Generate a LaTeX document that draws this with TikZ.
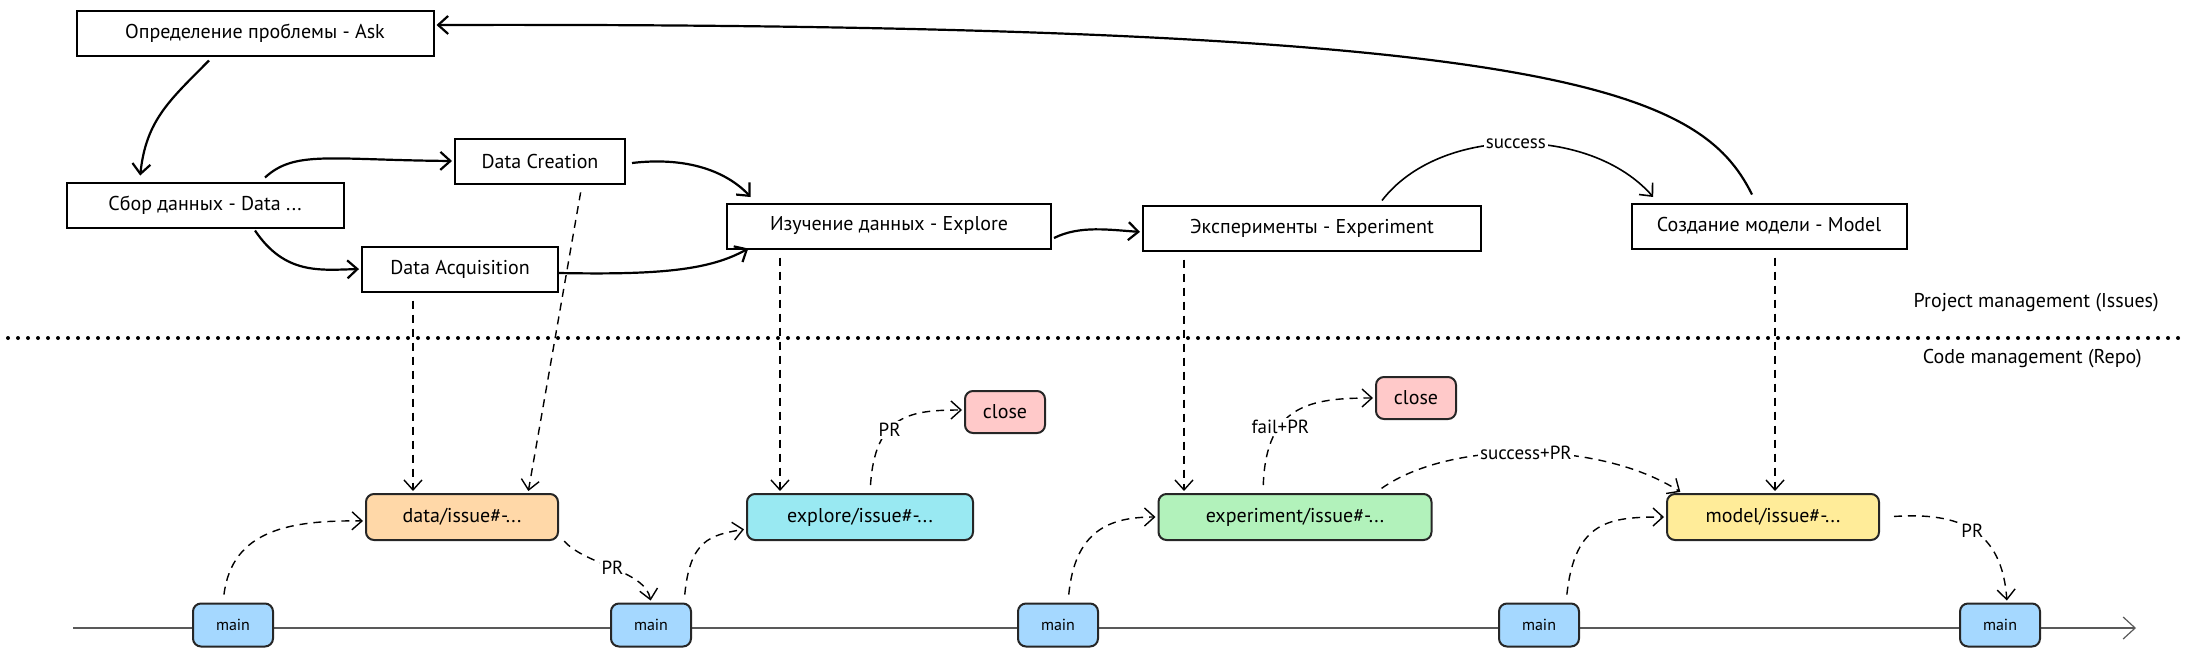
\documentclass[tikz,border=0pt]{standalone}
\usepackage{fontspec}
\setmainfont{PT Sans}
\usepackage{tikz}
\usetikzlibrary{arrows, arrows.meta}

\definecolor{dataorange}{HTML}{FFD8A8}
\definecolor{explorecyan}{HTML}{99E9F2}
\definecolor{expgreen}{HTML}{B2F2BB}
\definecolor{modelyellow}{HTML}{FFEC99}
\definecolor{mainblue}{HTML}{A5D8FF}
\definecolor{closered}{HTML}{FFC9C9}

\begin{document}
\begin{tikzpicture}[
            > = {Straight Barb[length=5pt,width=9pt]}, % arrow head style
            shorten > = 1pt, % don't touch arrow head to node
            x = 0.5pt, y = -0.5pt, % one unit = one pixel of the sketch
            semithick, % line style
            font = \fontsize{10}{12}\selectfont
        ]

        \tikzstyle{task}=[
            draw = black,
            line width = 1pt,
            fill = white,
            minimum height = 22.5pt,
            inner sep = 0pt
        ]
        \tikzstyle{branch}=[
            draw = black!85,
            line width = 1pt,
            rounded corners = 4pt,
            minimum height = 23pt,
            inner sep = 0pt
        ]
        \tikzstyle{mainbox}=[branch, fill = mainblue, minimum width = 40pt,
            minimum height = 21.5pt, font = \fontsize{8}{10}\selectfont]
        \tikzstyle{closebox}=[branch, fill = closered, minimum width = 40pt,
            minimum height = 21pt]
        \tikzstyle{flow}=[->, line width = 1.1pt]
        \tikzstyle{link}=[->, line width = 0.7pt, dash pattern = on 4pt off 3pt,
            shorten < = 4pt]
        \tikzstyle{tag}=[fill = white, inner sep = 1pt,
            font = \fontsize{9.5}{10}\selectfont]

        \useasboundingbox (0,0) rectangle (2189,659);

        % timeline and separator
        \coordinate (lineL) at (73,628);
        \coordinate (lineR) at (2138,628);
        \draw[gray!70!black, -{Straight Barb[length=6pt,width=11pt]}] (lineL) -- (lineR);
        \coordinate (sepL) at (8,338);
        \coordinate (sepR) at (2180,338);
        \draw[line width = 2pt, dash pattern = on 0pt off 5pt, line cap = round] (sepL) -- (sepR);

        \node[anchor = east] (pm) at (2166,303) {Project management (Issues)};
        \node[anchor = east] (cm) at (2149,359) {Code management (Repo)};

        % issues
        \node[task, minimum width = 178.5pt] (ask) at (255,33) {Определение проблемы - Ask};
        \node[task, minimum width = 138.5pt] (collect) at (205,205) {Сбор данных - Data ...};
        \node[task, minimum width = 85pt] (creation) at (540,161) {Data Creation};
        \node[task, minimum width = 98pt] (acquisition) at (460,269) {Data Acquisition};
        \node[task, minimum width = 162pt] (explore) at (889,226) {Изучение данных - Explore};
        \node[task, minimum width = 169pt] (experiment) at (1312,228) {Эксперименты - Experiment};
        \node[task, minimum width = 137.5pt] (model) at (1769,226) {Создание модели - Model};

        % branches
        \node[branch, fill = dataorange, minimum width = 96pt] (dataissue) at (462,517) {data/issue\#-...};
        \node[branch, fill = explorecyan, minimum width = 113pt] (exploreissue) at (860,517) {explore/issue\#-...};
        \node[branch, fill = expgreen, minimum width = 136.5pt] (expissue) at (1295,517) {experiment/issue\#-...};
        \node[branch, fill = modelyellow, minimum width = 106pt] (modelissue) at (1773,517) {model/issue\#-...};
        \node[closebox] (close1) at (1005,412) {close};
        \node[closebox] (close2) at (1416,398) {close};

        \foreach \x [count=\i] in {233,651,1058,1539,2000}
            \node[mainbox] (main\i) at (\x,625) {main};

        % issue flow
        \draw[flow] ([xshift=-8.5pt,yshift=4pt]model.north) .. controls (1700,90) and (1560,22) .. ([yshift=4pt]ask.east);
        \draw[flow] ([xshift=-23pt,yshift=-2pt]ask.south) .. controls (170,100) and (146,120) .. ([xshift=-32.5pt,yshift=2pt]collect.north);
        \draw[flow] ([xshift=30pt,yshift=2pt]collect.north) .. controls (295,150) and (330,160) .. (creation.west);
        \draw[flow] ([xshift=25pt,yshift=-1pt]collect.south) .. controls (285,275) and (320,270) .. (acquisition.west);
        \draw[flow] ([xshift=3pt,yshift=-1pt]creation.east) .. controls (700,155) and (735,180) .. ([xshift=13pt,yshift=2pt]explore.north west);
        \draw[flow] ([yshift=-2pt]acquisition.east) .. controls (660,275) and (710,270) .. ([xshift=12pt,yshift=1pt]explore.south west);
        \draw[flow] ([xshift=1pt,yshift=-6pt]explore.east) .. controls (1080,225) and (1110,230) .. ([yshift=-2pt]experiment.west);
        \draw[->, line width = 0.8pt] ([xshift=35pt,yshift=2pt]experiment.north) .. controls (1440,125) and (1590,125) ..
            node[tag] (success) {success} ([xshift=12pt,yshift=2pt]model.north west);

        % issue to branch
        \draw[link] ([xshift=-23.5pt]acquisition.south) -- ([xshift=-24.5pt]dataissue.north);
        \draw[link] ([xshift=21pt]creation.south) -- ([xshift=33pt]dataissue.north);
        \draw[link] ([xshift=-54.5pt]explore.south) -- ([xshift=-40pt]exploreissue.north);
        \draw[link] ([xshift=-64pt]experiment.south) -- ([xshift=-55.5pt]expissue.north);
        \draw[link] ([xshift=3pt]model.south) -- ([xshift=1pt]modelissue.north);

        % branches and merges
        \draw[link] ([xshift=-5pt]main1.north) .. controls (232,530) and (290,520) .. ([yshift=-2pt]dataissue.west);
        \draw[link] ([yshift=-9pt]dataissue.east) .. controls (585,565) and (645,570) ..
            node[tag] (pr1) {PR} (main2.north);
        \draw[link] ([xshift=16.5pt]main2.north) .. controls (690,540) and (710,535) .. ([yshift=-6pt]exploreissue.west);
        \draw[link] ([xshift=5pt]exploreissue.north) .. controls (875,415) and (910,410) ..
            node[tag, pos=0.4] (pr2) {PR} ([yshift=1pt]close1.west);
        \draw[link] ([xshift=5pt]main3.north) .. controls (1075,530) and (1110,517) .. (expissue.west);
        \draw[link] ([xshift=-16pt]expissue.north) .. controls (1266,405) and (1310,398) ..
            node[tag, pos=0.35] (fail) {fail+PR} (close2.west);
        \draw[link] ([xshift=40pt]expissue.north) .. controls (1450,440) and (1600,440) ..
            node[tag] (merge) {success+PR} ([xshift=-45.5pt]modelissue.north);
        \draw[link] ([xshift=13.5pt]main4.north) .. controls (1575,520) and (1610,517) .. (modelissue.west);
        \draw[link] ([xshift=3pt]modelissue.east) .. controls (1960,512) and (2002,530) ..
            node[tag, pos=0.5] (pr3) {PR} ([xshift=3.5pt]main5.north);

  \end{tikzpicture}
\end{document}
